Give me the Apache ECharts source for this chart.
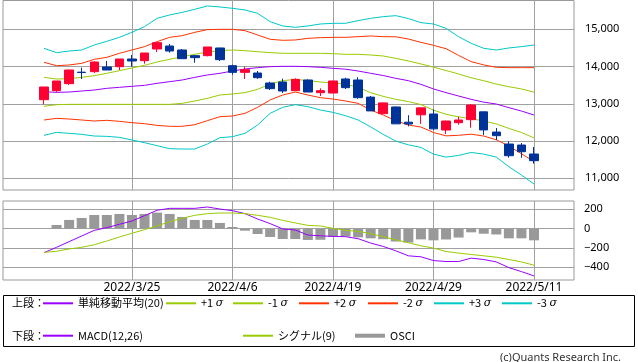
<!DOCTYPE html>
<html><head><meta charset="utf-8">
<script src="https://cdn.jsdelivr.net/npm/echarts@6/dist/echarts.min.js"></script>
<style>html,body{margin:0;padding:0;background:#fff}#c{width:638px;height:362px}</style>
</head><body><div id="c"></div>
<script>
const dates = ['2022/3/16','2022/3/17','2022/3/18','2022/3/21','2022/3/22','2022/3/23','2022/3/24','2022/3/25','2022/3/28','2022/3/29','2022/3/30','2022/3/31','2022/4/1','2022/4/4','2022/4/5','2022/4/6','2022/4/7','2022/4/8','2022/4/11','2022/4/12','2022/4/13','2022/4/14','2022/4/18','2022/4/19','2022/4/20','2022/4/21','2022/4/22','2022/4/25','2022/4/26','2022/4/27','2022/4/28','2022/4/29','2022/5/2','2022/5/3','2022/5/4','2022/5/5','2022/5/6','2022/5/9','2022/5/10','2022/5/11'];
const tickLabels = ['2022/3/25','2022/4/6','2022/4/19','2022/4/29','2022/5/11'];

const openV  = [13111,13353,13541,13850,13863,13989,13997,14203,14159,14472,14552,14445,14293,14293,14499,14024,13845,13827,13559,13586,13353,13640,13299,13290,13667,13640,13180,12736,12915,12508,12705,12727,12297,12494,12575,12785,12243,11921,11894,11653];
const closeV = [13452,13613,13908,13840,14123,13908,14203,14150,14364,14642,14418,14212,14239,14526,14186,13845,13917,13702,13407,13344,13657,13317,13353,13613,13434,13165,12810,13025,12462,12458,12892,12328,12539,12566,12968,12300,12145,11608,11715,11474];
const lowV   = [12986,13308,13505,13667,13827,13908,13908,13997,14078,14391,14373,14212,14105,14275,14150,13783,13667,13667,13371,13290,13353,13317,13210,13290,13398,13135,12810,12736,12462,12395,12462,12297,12190,12440,12360,12163,12029,11554,11554,11393];
const highV  = [13452,13613,13920,13971,14140,14150,14203,14311,14364,14660,14606,14472,14311,14526,14508,14051,13997,13881,13595,13675,13684,13657,13416,13620,13702,13715,13210,13031,12930,12695,12895,12852,12545,12655,12995,12790,12351,11993,11948,11841];

const ma20   = [13326,13308,13317,13344,13371,13416,13443,13470,13496,13550,13595,13640,13711,13774,13819,13881,13935,13971,13998,14007,14007,13998,13980,13953,13930,13881,13819,13760,13684,13622,13523,13400,13300,13210,13120,13045,12995,12897,12807,12700];
const plus1  = [13711,13666,13675,13711,13756,13819,13890,13962,14033,14123,14195,14266,14329,14391,14427,14445,14427,14400,14374,14356,14356,14356,14356,14347,14329,14329,14311,14284,14221,14150,14070,13985,13895,13801,13700,13620,13530,13460,13400,13312];
const minus1 = [12933,12977,12986,12986,12986,12986,12986,12986,12986,12986,12986,13013,13076,13147,13237,13264,13300,13389,13532,13622,13658,13622,13586,13560,13530,13440,13300,13200,13120,13060,12980,12830,12720,12650,12600,12540,12460,12340,12230,12085];
const plus2  = [14114,14024,14042,14087,14195,14248,14356,14445,14535,14669,14785,14830,14919,14991,15000,15000,14964,14848,14732,14705,14714,14758,14776,14785,14785,14803,14821,14803,14800,14740,14650,14570,14480,14300,14132,14045,13980,13971,13971,13971];
const minus2 = [12566,12610,12592,12566,12539,12557,12530,12494,12467,12422,12396,12396,12440,12548,12655,12673,12745,12906,13103,13237,13317,13237,13165,13129,13076,13013,12834,12700,12548,12431,12378,12230,12140,12155,12185,12135,12035,11870,11660,11450];
const plus3  = [14490,14373,14418,14445,14579,14678,14785,14919,15072,15295,15385,15456,15537,15627,15600,15564,15519,15430,15206,15090,15054,15090,15143,15161,15161,15233,15295,15340,15367,15290,15179,15143,15027,14803,14624,14490,14445,14499,14535,14579];
const minus3 = [12154,12234,12208,12181,12136,12127,12100,12029,11957,11877,11796,11787,11787,11921,12091,12118,12208,12431,12745,12906,12977,12924,12834,12771,12682,12566,12380,12180,12000,11900,11830,11650,11570,11615,11695,11650,11570,11312,11089,10847];

const macd   = [-248,-193,-134,-76,-17,10,45,79,134,190,210,210,210,224,203,186,155,100,52,-3,-14,-66,-74,-80,-83,-104,-149,-184,-229,-281,-291,-330,-340,-340,-305,-319,-344,-403,-444,-489];
const signal = [-245,-234,-210,-193,-166,-128,-86,-48,-10,28,72,107,138,155,162,162,155,138,117,86,59,34,28,3,-17,-28,-52,-83,-115,-146,-177,-201,-236,-253,-267,-281,-295,-319,-344,-378];
const osci   = [0,38,90,110,141,141,152,141,152,166,152,121,90,90,59,17,-21,-55,-86,-107,-107,-117,-115,-85,-82,-90,-100,-109,-133,-143,-111,-121,-112,-92,-38,-52,-60,-100,-100,-121];

const C_MA = '#9900ff', C_1 = '#99cc00', C_2 = '#ff3300', C_3 = '#00c8c8';
const C_UP = '#ff0033', C_DOWN = '#003399', C_OSCI = '#999999';
const GRID = '#a0a0a0';
const FONT = 'Noto Sans';
const JFONT = 'Noto Sans CJK JP';

const candle = dates.map((d, i) => [openV[i], closeV[i], lowV[i], highV[i]]);
const isTick = (i, v) => tickLabels.indexOf(v) >= 0;
const comma = v => String(v).replace(/\B(?=(\d{3})+(?!\d))/g, ',');
const minus = v => v < 0 ? '\u2212' + Math.abs(v) : String(v);
const sigmaFmt = name => name.replace('σ', ' {s|σ}');

function lineS(name, data, color) {
  return {name, type:'line', xAxisIndex:2, yAxisIndex:2, data, symbol:'none', showSymbol:false,
    clip:false, silent:true, z:3, lineStyle:{color, width:1}, itemStyle:{color}};
}
function leg(name, left, top, h) {
  return {data:[name], left, top, padding:0, itemGap:0, itemWidth:30, itemHeight:h || 2,
    icon:'rect', selectedMode:false, formatter:sigmaFmt,
    textStyle:{fontSize:11, fontFamily:JFONT, color:'#000', lineHeight:14,
      rich:{s:{fontSize:11, fontStyle:'italic', fontFamily:'DejaVu Serif', color:'#000', lineHeight:14}}}};
}
const hid = gi => ({gridIndex:gi, type:'value', show:false});

const option = {
  animation:false,
  backgroundColor:'#fff',
  grid:[
    {left:3, top:0.5, width:571, height:189.5, show:true, borderColor:'#999', borderWidth:1, backgroundColor:'transparent', outerBoundsMode:'none'},
    {left:3, top:29.33, width:571, height:149, outerBoundsMode:'none'},
    {left:44, top:0, width:490, height:190, outerBoundsMode:'none'},
    {left:3, top:201, width:571, height:79, show:true, borderColor:'#999', borderWidth:1, backgroundColor:'transparent', outerBoundsMode:'none'},
    {left:3, top:209.33, width:571, height:58, outerBoundsMode:'none'},
    {left:44, top:201, width:490, height:79, outerBoundsMode:'none'}
  ],
  xAxis:[
    hid(0), hid(1),
    {gridIndex:2, type:'category', data:dates, boundaryGap:false, axisLine:{show:false}, axisTick:{show:false},
      axisLabel:{show:false}, splitLine:{show:true, interval:isTick, lineStyle:{color:GRID, width:1}}},
    hid(3), hid(4),
    {gridIndex:5, type:'category', data:dates, boundaryGap:false, axisLine:{show:false}, axisTick:{show:false},
      axisLabel:{show:true, interval:isTick, color:'#000', fontSize:12, fontFamily:FONT, margin:2},
      splitLine:{show:true, interval:isTick, lineStyle:{color:GRID, width:1}}}
  ],
  yAxis:[
    hid(0),
    {gridIndex:1, type:'value', min:11000, max:15000, interval:1000, position:'right',
      axisLine:{show:false}, axisTick:{show:true, inside:false, length:8, lineStyle:{color:GRID}},
      axisLabel:{margin:11, color:'#000', fontSize:11, fontFamily:FONT, formatter:comma},
      splitLine:{show:true, lineStyle:{color:GRID, width:1}}},
    {gridIndex:2, type:'value', min:10687, max:15787, show:false},
    hid(3),
    {gridIndex:4, type:'value', min:-400, max:200, interval:200, position:'right',
      axisLine:{show:false}, axisTick:{show:true, inside:false, length:8, lineStyle:{color:GRID}},
      axisLabel:{margin:10, color:'#000', fontSize:11, fontFamily:FONT, formatter:minus},
      splitLine:{show:true, lineStyle:{color:GRID, width:1}}},
    {gridIndex:5, type:'value', min:-531, max:286, show:false}
  ],
  legend:[
    leg('単純移動平均(20)', 43, 296.3), leg('+1σ', 166, 296.3), leg('-1σ', 233, 296.3),
    leg('+2σ', 299, 296.3), leg('-2σ', 368, 296.3), leg('+3σ', 434, 296.3), leg('-3σ', 502, 296.3),
    leg('MACD(12,26)', 43, 328.7), leg('シグナル(9)', 243, 328.7), leg('OSCI', 355, 328.7, 4)
  ],
  graphic:[
    {type:'rect', shape:{x:3.5, y:295.5, width:631, height:51}, style:{fill:'none', stroke:'#000', lineWidth:1}, silent:true},
    {type:'text', x:12, y:303.3, style:{text:'上段：', font:'11px "Noto Sans CJK JP"', fill:'#000', verticalAlign:'middle'}, silent:true},
    {type:'text', x:12, y:335.7, style:{text:'下段：', font:'11px "Noto Sans CJK JP"', fill:'#000', verticalAlign:'middle'}, silent:true},
    {type:'text', x:500, y:357.5, style:{text:'(c)Quants Research Inc.', font:'11px "Noto Sans"', fill:'#333', verticalAlign:'middle'}, silent:true}
  ],
  series:[
    lineS('単純移動平均(20)', ma20, C_MA),
    lineS('+1σ', plus1, C_1), lineS('-1σ', minus1, C_1),
    lineS('+2σ', plus2, C_2), lineS('-2σ', minus2, C_2),
    lineS('+3σ', plus3, C_3), lineS('-3σ', minus3, C_3),
    {name:'price', type:'candlestick', xAxisIndex:2, yAxisIndex:2, data:candle, barWidth:9, clip:false, z:5, silent:true,
      itemStyle:{color:C_UP, color0:C_DOWN, borderColor:C_UP, borderColor0:C_DOWN, borderWidth:1}},
    {name:'OSCI', type:'bar', xAxisIndex:5, yAxisIndex:5, data:osci, barWidth:10, silent:true, z:2, itemStyle:{color:C_OSCI}},
    {name:'MACD(12,26)', type:'line', xAxisIndex:5, yAxisIndex:5, data:macd, symbol:'none', showSymbol:false, clip:false, silent:true, z:3, lineStyle:{color:C_MA, width:1}, itemStyle:{color:C_MA}},
    {name:'シグナル(9)', type:'line', xAxisIndex:5, yAxisIndex:5, data:signal, symbol:'none', showSymbol:false, clip:false, silent:true, z:3, lineStyle:{color:C_1, width:1}, itemStyle:{color:C_1}}
  ]
};
const chart = echarts.init(document.getElementById('c'));
chart.setOption(option);
</script>
</body></html>
